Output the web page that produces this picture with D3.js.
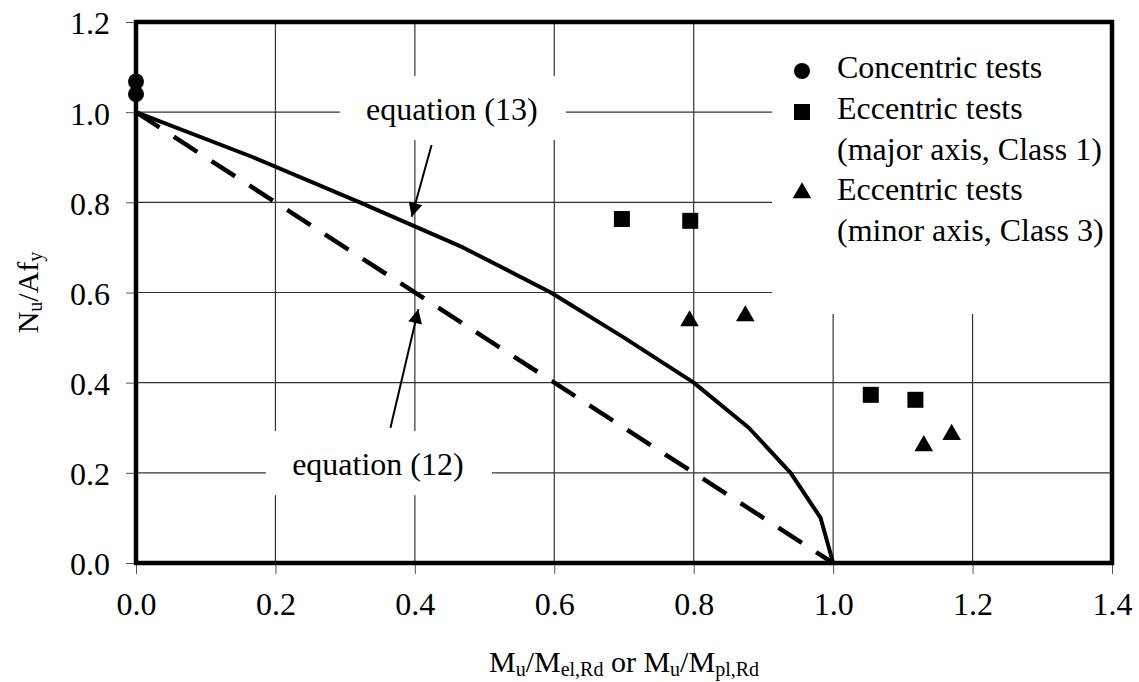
<!DOCTYPE html>
<html>
<head>
<meta charset="utf-8">
<script src="https://cdn.jsdelivr.net/npm/d3@7"></script>
<style>
  body { margin: 0; background: #fff; }
  svg, svg text { font-family: "Liberation Serif", "Times New Roman", serif; }
  .tick text { font-size: 32px; fill: #000; }
  .grid line { stroke: #333; stroke-width: 1.2; }
</style>
</head>
<body>
<svg id="chart"></svg>
<script>
// values
const xTicks = [0, 0.2, 0.4, 0.6, 0.8, 1.0, 1.2, 1.4];
const yTicks = [0, 0.2, 0.4, 0.6, 0.8, 1.0, 1.2];

const eq13X = [0, 0.168, 0.321, 0.469, 0.595, 0.70, 0.80, 0.879, 0.939, 0.982, 1.0];
const eq13Y = [1.0, 0.9, 0.8, 0.7, 0.6, 0.5, 0.4, 0.3, 0.2, 0.1, 0.0];
const eq12X = [0, 1.0];
const eq12Y = [1.0, 0.0];

const concX = [0, 0];
const concY = [1.068, 1.040];
const majorX = [0.697, 0.795, 1.054, 1.118];
const majorY = [0.763, 0.759, 0.373, 0.362];
const minorX = [0.794, 0.874, 1.130, 1.170];
const minorY = [0.537, 0.548, 0.260, 0.285];

const legendItems = [
  {symbol: 'circle', lines: ['Concentric tests']},
  {symbol: 'square', lines: ['Eccentric tests', '(major axis, Class 1)']},
  {symbol: 'triangle', lines: ['Eccentric tests', '(minor axis, Class 3)']}
];

const labels = [
  {text: 'equation (13)', x: 0.453, y: 1.005, ax: 0.424, ay: 0.927, tx: 0.3955, ty: 0.768},
  {text: 'equation (12)', x: 0.347, y: 0.217, ax: 0.365, ay: 0.300, tx: 0.405, ty: 0.563}
];

const width = 1139, height = 682;
const margin = {top: 22, right: 27, bottom: 119, left: 136};
const w = width - margin.left - margin.right;
const h = height - margin.top - margin.bottom;

const svg = d3.select('#chart').attr('width', width).attr('height', height);

svg.append('defs').append('marker')
    .attr('id', 'arrow')
    .attr('viewBox', '0 0 10 10')
    .attr('refX', 10).attr('refY', 5)
    .attr('markerUnits', 'userSpaceOnUse')
    .attr('markerWidth', 18).attr('markerHeight', 14)
    .attr('orient', 'auto')
  .append('path')
    .attr('d', 'M0,0 L10,5 L0,10 Z')
    .attr('fill', '#000');

const g = svg.append('g').attr('transform', `translate(${margin.left},${margin.top})`);

const x = d3.scaleLinear().domain([0, 1.4]).range([0, w]);
const y = d3.scaleLinear().domain([0, 1.2]).range([h, 0]);

// gridlines
g.append('g').attr('class', 'grid')
  .selectAll('line').data(xTicks.slice(1, -1)).join('line')
    .attr('x1', d => x(d)).attr('x2', d => x(d))
    .attr('y1', 0).attr('y2', h);
g.append('g').attr('class', 'grid')
  .selectAll('line').data(yTicks.slice(1, -1)).join('line')
    .attr('x1', 0).attr('x2', w)
    .attr('y1', d => y(d)).attr('y2', d => y(d));

// axes with outside ticks
const xAxis = d3.axisBottom(x).tickValues(xTicks).tickFormat(d3.format('.1f'))
    .tickSize(11).tickPadding(18);
const yAxis = d3.axisLeft(y).tickValues(yTicks).tickFormat(d3.format('.1f'))
    .tickSize(10).tickPadding(16);

g.append('g').attr('transform', `translate(0,${h})`).call(xAxis)
  .attr('font-family', null).attr('font-size', null)
  .call(a => a.select('.domain').remove())
  .call(a => a.selectAll('.tick line').attr('stroke', '#555'))
  .call(a => a.selectAll('.tick text').attr('dy', '0.72em'));
g.append('g').call(yAxis)
  .attr('font-family', null).attr('font-size', null)
  .call(a => a.select('.domain').remove())
  .call(a => a.selectAll('.tick line').attr('stroke', '#555'))
  .call(a => a.selectAll('.tick text').attr('dy', '0.37em'));

// white boxes behind legend and labels
g.append('rect')
    .attr('x', 772 - margin.left).attr('y', 0)
    .attr('width', w - (772 - margin.left)).attr('height', 314 - margin.top)
    .attr('fill', '#fff');

labels.forEach(l => {
  g.append('rect')
      .attr('x', x(l.x) - 112).attr('y', y(l.y) - 34)
      .attr('width', 226).attr('height', 64)
      .attr('fill', '#fff');
  g.append('text')
      .attr('x', x(l.x)).attr('y', y(l.y) + 10)
      .attr('text-anchor', 'middle')
      .attr('font-size', 32)
      .text(l.text);
  g.append('line')
      .attr('x1', x(l.ax)).attr('y1', y(l.ay))
      .attr('x2', x(l.tx)).attr('y2', y(l.ty))
      .attr('stroke', '#000').attr('stroke-width', 2)
      .attr('marker-end', 'url(#arrow)');
});

// curves
const line = d3.line().x(d => x(d[0])).y(d => y(d[1]));
g.append('path')
    .datum(d3.zip(eq12X, eq12Y))
    .attr('d', line)
    .attr('fill', 'none').attr('stroke', '#000')
    .attr('stroke-width', 4.5).attr('stroke-dasharray', '28,17');
g.append('path')
    .datum(d3.zip(eq13X, eq13Y))
    .attr('d', line)
    .attr('fill', 'none').attr('stroke', '#000')
    .attr('stroke-width', 4).attr('stroke-linejoin', 'round');

// markers
const symbols = {
  circle: d3.symbol().type(d3.symbolCircle).size(Math.PI * 64),
  square: d3.symbol().type(d3.symbolSquare).size(16 * 16),
  triangle: d3.symbol().type(d3.symbolTriangle).size(150)
};

function drawPoints(xs, ys, type) {
  g.append('g').selectAll('path').data(d3.zip(xs, ys)).join('path')
      .attr('transform', d => `translate(${x(d[0])},${y(d[1])})`)
      .attr('d', symbols[type])
      .attr('fill', '#000');
}
drawPoints(concX, concY, 'circle');
drawPoints(majorX, majorY, 'square');
drawPoints(minorX, minorY, 'triangle');

// plot border
g.append('rect')
    .attr('width', w).attr('height', h)
    .attr('fill', 'none').attr('stroke', '#000').attr('stroke-width', 4.5);

// legend
const legend = svg.append('g').attr('transform', 'translate(802,0)');
const rowY = [[71], [112, 153], [193, 234]];
legendItems.forEach((item, i) => {
  legend.append('path')
      .attr('transform', `translate(0,${rowY[i][0]})`)
      .attr('d', symbols[item.symbol])
      .attr('fill', '#000');
  item.lines.forEach((t, j) => {
    legend.append('text')
        .attr('x', 35).attr('y', rowY[i][j] + 7)
        .attr('font-size', 32)
        .text(t);
  });
});

// axis titles
const xTitle = svg.append('text')
    .attr('x', margin.left + x(0.7)).attr('y', 672)
    .attr('text-anchor', 'middle')
    .attr('font-size', 30);
[['M', 0], ['u', 1], ['/M', 0], ['el,Rd', 1], [' or M', 0], ['u', 1], ['/M', 0], ['pl,Rd', 1]]
  .forEach(([t, sub]) => {
    xTitle.append('tspan')
        .attr('font-size', sub ? 20 : 30)
        .attr('dy', sub ? 4 : -4)
        .text(t);
  });
xTitle.select('tspan').attr('dy', 0);

const yTitle = svg.append('text')
    .attr('transform', `translate(38,${margin.top + y(0.6)}) rotate(-90)`)
    .attr('text-anchor', 'middle')
    .attr('font-size', 30);
[['N', 0], ['u', 1], ['/Af', 0], ['y', 1]].forEach(([t, sub]) => {
  yTitle.append('tspan')
      .attr('font-size', sub ? 20 : 30)
      .attr('dy', sub ? 4 : -4)
      .text(t);
});
yTitle.select('tspan').attr('dy', 0);
</script>
</body>
</html>
